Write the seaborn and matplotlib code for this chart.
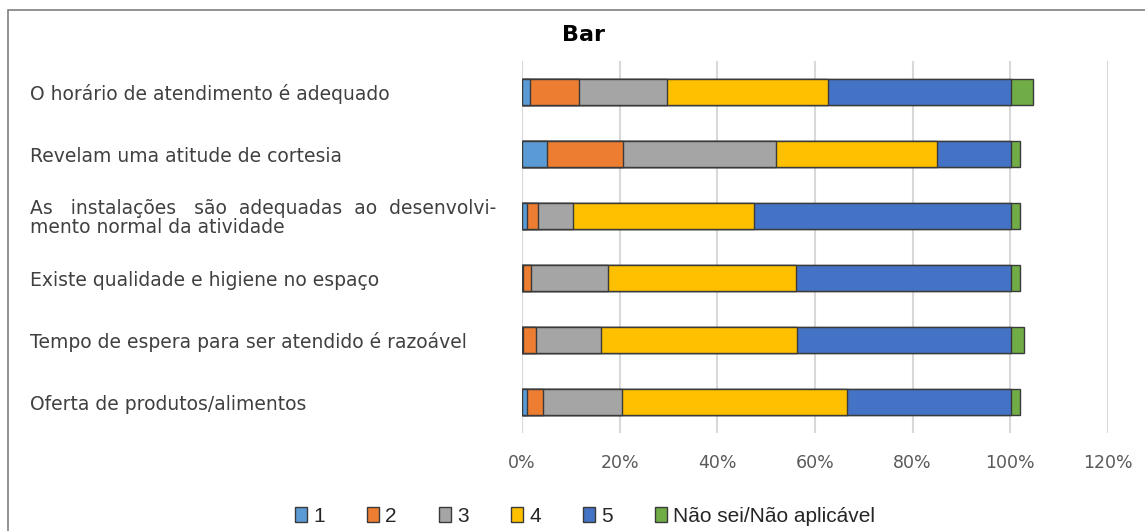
import matplotlib
matplotlib.use('Agg')
import matplotlib.pyplot as plt
from matplotlib.patches import Patch, Rectangle
import seaborn as sns
import pandas as pd
import numpy as np

# Data (percent of answers)
questions = ['O horário de atendimento é adequado',
             'Revelam uma atitude de cortesia',
             'As   instalações   são  adequadas  ao  desenvolvi-\nmento normal da atividade',
             'Existe qualidade e higiene no espaço',
             'Tempo de espera para ser atendido é razoável',
             'Oferta de produtos/alimentos']
levels = ['1', '2', '3', '4', '5', 'Não sei/Não aplicável']
r1 = [1.6, 5.1, 1.0, 0.3, 0.3, 1.0]
r2 = [10.1, 15.5, 2.3, 1.5, 2.6, 3.4]
r3 = [17.9, 31.4, 7.1, 15.8, 13.3, 16.0]
r4 = [33.0, 32.9, 37.1, 38.6, 40.2, 46.1]
r5 = [37.6, 15.3, 52.6, 43.9, 43.8, 33.6]
ns = [4.4, 1.8, 1.8, 1.8, 2.7, 1.8]
colors = ['#5B9BD5', '#ED7D31', '#A5A5A5', '#FFC000', '#4472C4', '#70AD47']

df = pd.DataFrame({'Pergunta': questions, '1': r1, '2': r2, '3': r3,
                   '4': r4, '5': r5, 'Não sei/Não aplicável': ns})
cum = df[levels].cumsum(axis=1) / 100

sns.set_style('white')
fig = plt.figure(figsize=(11.45, 5.31), dpi=100)
ax = fig.add_axes([522 / 1145, 1 - 433 / 531, (1108 - 522) / 1145, 372 / 531])

# draw stacked bars from the longest cumulative layer down
for lvl, col in reversed(list(zip(levels, colors))):
    sns.barplot(x=cum[lvl], y=df['Pergunta'], color=col, orient='h', width=0.43,
                saturation=1, edgecolor='#3a3a3a', linewidth=1, ax=ax)

ax.set_xlim(0, 1.2)
ax.set_xticks(np.arange(0, 1.21, 0.2))
ax.set_xticklabels([f'{int(round(v * 100))}%' for v in np.arange(0, 1.21, 0.2)])
ax.grid(axis='x', color='#d9d9d9', lw=1.5)
ax.set_axisbelow(True)
for s in ax.spines.values():
    s.set_visible(False)
ax.set_xlabel('')
ax.set_ylabel('')
ax.tick_params(axis='x', length=0, pad=15, labelsize=12.5, labelcolor='#595959')
ax.tick_params(axis='y', length=0, pad=354, labelsize=13.5, labelcolor='#404040')
for lab in ax.get_yticklabels():
    lab.set_ha('left')
    lab.set_linespacing(1.0)

fig.text(583 / 1145, 1 - 35 / 531, 'Bar', ha='center', va='center',
         fontsize=16, fontweight='bold', color='#000000')

handles = [Patch(facecolor=c, edgecolor='#3a3a3a', lw=1) for c in colors]
fig.legend(handles, levels, loc='center', bbox_to_anchor=(585 / 1145, 15 / 531),
           ncol=6, frameon=False, handlelength=0.6, handleheight=0.75,
           handletextpad=0.3, columnspacing=2.0, labelcolor='#262626',
           prop={'family': 'Liberation Sans', 'size': 15})

fig.patches.append(Rectangle((8 / 1145, -0.1), 1.2, (531 - 10) / 531 + 0.1,
                             transform=fig.transFigure, fill=False,
                             edgecolor='#7f7f7f', lw=1.2))

fig.savefig('out.png', dpi=100)
